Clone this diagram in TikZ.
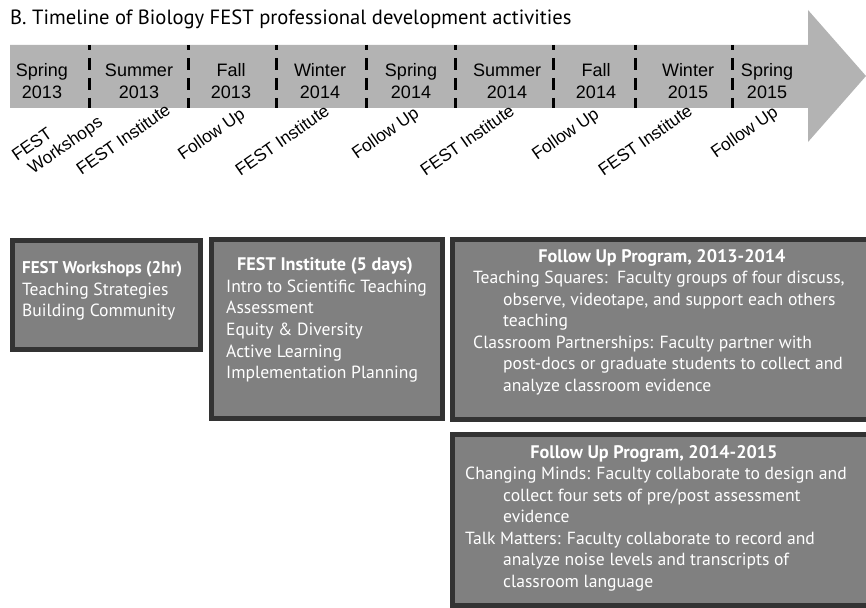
\documentclass[tikz,border=0pt]{standalone}
\usepackage{fontspec}
\setmainfont{PT Sans}
\newfontfamily\arialf{Liberation Sans}
\definecolor{arrowgray}{HTML}{B3B3B3}
\definecolor{boxfill}{HTML}{808080}
\definecolor{boxedge}{HTML}{333333}
\tikzset{
  season/.style={font=\arialf\fontsize{18}{22}\selectfont, align=center, inner sep=0pt},
  act/.style={font=\arialf\fontsize{17.3}{19.5}\selectfont, align=left, inner sep=0pt, rotate=35},
  sepline/.style={line width=3pt, dash pattern=on 12pt off 8pt, dash phase=7pt},
  pdbox/.style={draw=boxedge, fill=boxfill, line width=5pt},
  boxtxt/.style={text=white, font=\fontsize{17.6}{21.6}\selectfont, inner sep=0pt, anchor=base west},
  boxttl/.style={text=white, font=\bfseries\fontsize{18.2}{21.6}\selectfont, inner sep=0pt, anchor=base}
}
\begin{document}
\begin{tikzpicture}[x=1pt,y=1pt]
\useasboundingbox (0,0) rectangle (866,-607);
\clip (0,0) rectangle (866,-607);
% title
\node[anchor=base west, inner sep=0pt, font=\fontsize{20.6}{22}\selectfont] (title) at (10,-25) {B. Timeline of Biology FEST professional development activities};
% arrow
\fill[arrowgray] (10,-45) -- (808,-45) -- (808,-10) -- (866,-76) -- (808,-142) -- (808,-108) -- (10,-108) -- cycle;
% separators
\foreach \x in {89,188,276,366,455,553,635,732}{
  \draw[sepline] (\x,-45) -- (\x,-108);
}
% seasons
\node[season] (s1) at (42,-81) {Spring\\2013};
\node[season] (s2) at (139,-81) {Summer\\2013};
\node[season] (s3) at (231,-81) {Fall\\2013};
\node[season] (s4) at (320,-81) {Winter\\2014};
\node[season] (s5) at (411,-81) {Spring\\2014};
\node[season] (s6) at (507,-81) {Summer\\2014};
\node[season] (s7) at (596,-81) {Fall\\2014};
\node[season] (s8) at (688,-81) {Winter\\2015};
\node[season] (s9) at (767,-81) {Spring\\2015};
% activities
\node[act] (a1) at (58,-140) {FEST\\\hspace*{6pt}Workshops};
\node[act] (a2) at (123,-139) {FEST Institute};
\node[act] (a3) at (212,-135) {Follow Up};
\node[act] (a4) at (282,-140) {FEST Institute};
\node[act] (a5) at (386,-134) {Follow Up};
\node[act] (a6) at (467,-140) {FEST Institute};
\node[act] (a7) at (566,-135) {Follow Up};
\node[act] (a8) at (645,-140) {FEST Institute};
\node[act] (a9) at (745,-133) {Follow Up};
% boxes
\draw[pdbox] (12.5,-240.5) rectangle (200.5,-349.5);
\draw[pdbox] (211.5,-239.5) rectangle (442.5,-418.5);
\draw[pdbox] (452.5,-239.5) rectangle (880,-419.5);
\draw[pdbox] (452.5,-434.5) rectangle (880,-605.5);
% box 1
\node[boxttl, anchor=base west, font=\bfseries\fontsize{17}{21.6}\selectfont] (b1t) at (22,-273) {FEST Workshops (2hr)};
\node[boxtxt] (b1a) at (22,-295) {Teaching Strategies};
\node[boxtxt] (b1b) at (22,-316.5) {Building Community};
% box 2
\node[boxttl] (b2t) at (325,-270) {FEST Institute (5 days)};
\node[boxtxt] (b2a) at (226,-292) {Intro to Scientific Teaching};
\node[boxtxt] (b2b) at (226,-313.7) {Assessment};
\node[boxtxt] (b2c) at (226,-335.4) {Equity \& Diversity};
\node[boxtxt] (b2d) at (226,-357.1) {Active Learning};
\node[boxtxt] (b2e) at (226,-378.8) {Implementation Planning};
% box 3
\node[boxttl] (b3t) at (662,-262) {Follow Up Program, 2013-2014};
\node[boxtxt] (b3a) at (473,-283.5) {Teaching Squares:\ \ Faculty groups of four discuss,};
\node[boxtxt] (b3b) at (503,-305.1) {observe, videotape, and support each others};
\node[boxtxt] (b3c) at (503,-326.7) {teaching};
\node[boxtxt] (b3d) at (473,-348.3) {Classroom Partnerships: Faculty partner with};
\node[boxtxt] (b3e) at (503,-369.9) {post-docs or graduate students to collect and};
\node[boxtxt] (b3f) at (503,-391.5) {analyze classroom evidence};
% box 4
\node[boxttl] (b4t) at (654,-458) {Follow Up Program, 2014-2015};
\node[boxtxt] (b4a) at (465,-479.5) {Changing Minds: Faculty collaborate to design and};
\node[boxtxt] (b4b) at (503,-501.1) {collect four sets of pre/post assessment};
\node[boxtxt] (b4c) at (503,-522.7) {evidence};
\node[boxtxt] (b4d) at (465,-544.3) {Talk Matters: Faculty collaborate to record and};
\node[boxtxt] (b4e) at (503,-565.9) {analyze noise levels and transcripts of};
\node[boxtxt] (b4f) at (503,-587.5) {classroom language};
\end{tikzpicture}
\end{document}
